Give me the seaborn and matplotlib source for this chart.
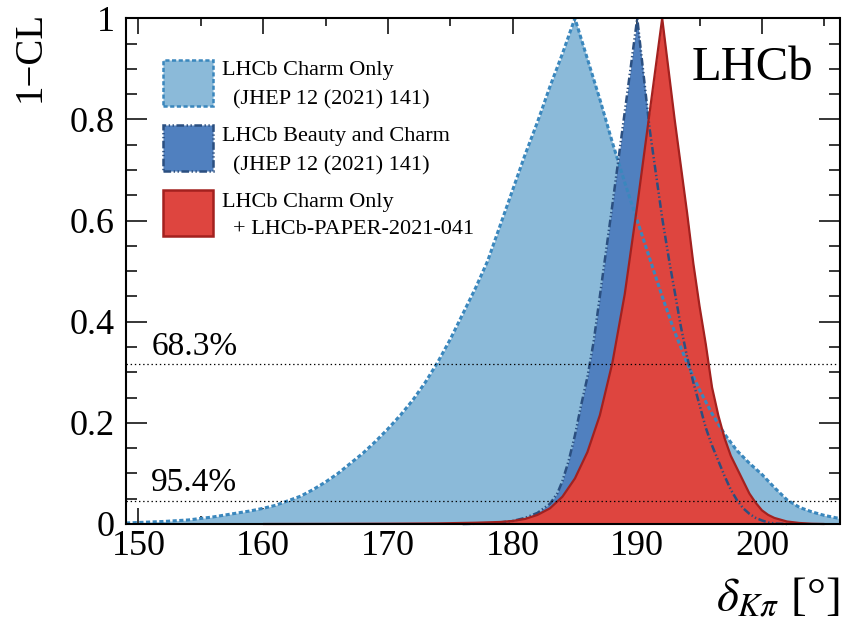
import matplotlib
matplotlib.use("Agg")
import matplotlib.pyplot as plt
import seaborn as sns
from matplotlib.patches import Rectangle
from matplotlib.ticker import MultipleLocator, FuncFormatter

# ---------------- data ----------------
# LHCb Charm Only (JHEP 12 (2021) 141)
charm_x = [149, 150, 152, 154, 155, 156, 157, 158, 159, 160, 161, 162, 163, 164, 165,
           166, 167, 168, 169, 170, 171, 172, 173, 174, 175, 176, 177, 178, 179, 180,
           181, 182, 183, 184, 185, 186, 187, 188, 189, 190, 191, 192, 193, 194, 195,
           196, 197, 198, 199, 200, 201, 202, 203, 204, 205, 206, 206.2]
charm_y = [0.002, 0.003, 0.005, 0.008, 0.011, 0.014, 0.018, 0.022, 0.026, 0.031, 0.037,
           0.046, 0.055, 0.068, 0.083, 0.100, 0.120, 0.140, 0.163, 0.188, 0.215, 0.245,
           0.280, 0.320, 0.365, 0.415, 0.465, 0.520, 0.590, 0.660, 0.730, 0.795, 0.865,
           0.930, 1.000, 0.920, 0.840, 0.755, 0.675, 0.600, 0.525, 0.450, 0.380, 0.318,
           0.265, 0.218, 0.178, 0.145, 0.120, 0.098, 0.072, 0.048, 0.033, 0.024, 0.017,
           0.012, 0.011]

# LHCb Beauty and Charm (JHEP 12 (2021) 141)
bc_x = [176, 178, 179, 180, 181, 182, 183, 183.6, 184, 184.5, 185, 185.5, 186, 186.5,
        187, 187.5, 188, 189, 190, 191, 192, 192.6, 193, 193.5, 194, 194.5, 195, 195.5,
        196, 196.5, 197, 197.5, 198, 198.5, 199, 199.5, 200, 200.5, 201, 202]
bc_y = [0.0, 0.001, 0.003, 0.006, 0.012, 0.022, 0.040, 0.061, 0.085, 0.125, 0.175,
        0.235, 0.290, 0.360, 0.450, 0.540, 0.630, 0.815, 1.000, 0.780, 0.605, 0.515,
        0.460, 0.390, 0.330, 0.280, 0.235, 0.190, 0.155, 0.125, 0.095, 0.068, 0.047,
        0.031, 0.020, 0.012, 0.007, 0.003, 0.001, 0.0]

# LHCb Charm Only + LHCb-PAPER-2021-041
new_x = [160, 165, 170, 174, 177, 179, 180, 181, 182, 183, 184, 185, 186, 187, 188,
         189, 190, 191, 192, 193, 194, 194.5, 195, 195.5, 196, 196.5, 197, 197.5, 198,
         198.5, 199, 199.5, 200, 200.5, 201, 202, 203, 204, 205]
new_y = [0.0, 0.0002, 0.0006, 0.0012, 0.0025, 0.004, 0.006, 0.010, 0.018, 0.031,
         0.054, 0.090, 0.142, 0.215, 0.318, 0.455, 0.630, 0.815, 1.000, 0.800, 0.615,
         0.515, 0.430, 0.355, 0.270, 0.215, 0.170, 0.135, 0.110, 0.085, 0.060, 0.042,
         0.027, 0.018, 0.012, 0.005, 0.002, 0.0005, 0.0]

cl_levels = [0.317, 0.046]
cl_labels = ["68.3%", "95.4%"]

legend_line1 = ["LHCb Charm Only", "LHCb Beauty and Charm", "LHCb Charm Only"]
legend_line2 = ["(JHEP 12 (2021) 141)", "(JHEP 12 (2021) 141)", "+ LHCb-PAPER-2021-041"]

x_ticks = [150, 160, 170, 180, 190, 200]
y_ticks = [0, 0.2, 0.4, 0.6, 0.8, 1.0]

# ---------------- style ----------------
sns.set_theme(style="ticks")
plt.rcParams["font.family"] = ["Liberation Serif", "DejaVu Serif"]
plt.rcParams["mathtext.fontset"] = "stix"
plt.rcParams["lines.scale_dashes"] = False
plt.rcParams["text.color"] = "black"
plt.rcParams["axes.labelcolor"] = "black"

c_lb_fill, c_lb_line = "#8bbad9", "#3a87bd"
c_db_fill, c_db_line = "#5080bf", "#2b4f80"
c_rd_fill, c_rd_line = "#de453f", "#a3211f"

W, H = 842, 620
fig = plt.figure(figsize=(W / 100, H / 100), dpi=100)
L, R, T, B = 126, 839.5, 18.3, 524
ax = fig.add_axes([L / W, 1 - B / H, (R - L) / W, (B - T) / H])
ax.set_facecolor("white")


def px(x, y):
    return (x / W, 1 - y / H)


# fills
ax.fill_between(charm_x, charm_y, 0, color=c_lb_fill, lw=0, zorder=1)
ax.fill_between(bc_x, bc_y, 0, color=c_db_fill, lw=0, zorder=2, clip_on=False)
ax.fill_between(new_x, new_y, 0, color=c_rd_fill, lw=0, zorder=3, clip_on=False)

# outlines
sns.lineplot(x=charm_x, y=charm_y, ax=ax, color=c_lb_line, lw=2.2, sort=False,
             estimator=None, zorder=4)
ax.lines[-1].set_dashes((3.0, 1.8))
sns.lineplot(x=bc_x, y=bc_y, ax=ax, color=c_db_line, lw=1.8, sort=False,
             estimator=None, zorder=5)
ax.lines[-1].set_dashes((5.5, 1.8, 1.0, 1.8, 1.0, 1.8))
ax.lines[-1].set_clip_on(False)
sns.lineplot(x=new_x, y=new_y, ax=ax, color=c_rd_line, lw=1.6, sort=False,
             estimator=None, zorder=6)
ax.lines[-1].set_clip_on(False)

# CL lines
for lev in cl_levels:
    ax.axhline(lev, color="black", lw=0.9, ls=(0, (1, 2)), zorder=7)
fig.text(*px(152, 355), cl_labels[0], fontsize=24, ha="left", va="baseline")
fig.text(*px(151, 491), cl_labels[1], fontsize=24, ha="left", va="baseline")

# axes limits/ticks
ax.set_xlim(149.0, 206.22)
ax.set_ylim(0, 1)
ax.set_xticks(x_ticks)
ax.xaxis.set_minor_locator(MultipleLocator(5))
ax.set_yticks(y_ticks)
ax.yaxis.set_minor_locator(MultipleLocator(0.05))
ax.yaxis.set_major_formatter(FuncFormatter(lambda v, p: f"{v:g}"))
ax.tick_params(axis="both", which="both", direction="in", top=True, right=True,
               width=1.1, colors="black", labelsize=26)
ax.tick_params(axis="x", which="major", length=11.5, pad=4)
ax.tick_params(axis="x", which="minor", length=5.5)
ax.tick_params(axis="y", which="major", length=15, pad=8)
ax.tick_params(axis="y", which="minor", length=7.7)
for s in ax.spines.values():
    s.set_linewidth(1.5)
    s.set_color("black")
    s.set_zorder(10)

ax.set_ylabel("1\u2212CL", fontsize=28)
lab = ax.yaxis.label
lab.set_rotation_mode("default")
lab.set_va("top")
lab.set_ha("center")
ax.yaxis.set_label_coords(-0.134, 1.014)

ax.set_xlabel(r"$\delta_{K\pi}$ [°]", fontsize=34, loc="right")
ax.xaxis.set_label_coords(1.0, -0.105)

fig.text(*px(813, 80), "LHCb", fontsize=35, ha="right", va="baseline")

# legend (manual, in pixel positions)
boxes = [(162.7, 60, c_lb_fill, c_lb_line, (0, (3.0, 1.8))),
         (162.7, 125, c_db_fill, c_db_line, (0, (5.5, 1.8, 1.0, 1.8, 1.0, 1.8))),
         (162.7, 190, c_rd_fill, c_rd_line, "solid")]
baselines = [(75, 104), (141, 170), (207, 234)]
for (bx, by, fc, ec, ls), (b1, b2), l1, l2 in zip(boxes, baselines, legend_line1, legend_line2):
    x0, y0 = px(bx, by + 46)
    rect = Rectangle((x0, y0), 50.6 / W, 46 / H, transform=fig.transFigure,
                     facecolor=fc, edgecolor=ec, lw=1.8, ls=ls, zorder=20)
    fig.add_artist(rect)
    fig.text(*px(222, b1), l1, fontsize=16, ha="left", va="baseline")
    fig.text(*px(233, b2), l2, fontsize=16, ha="left", va="baseline")

fig.savefig("out.png", dpi=100)
